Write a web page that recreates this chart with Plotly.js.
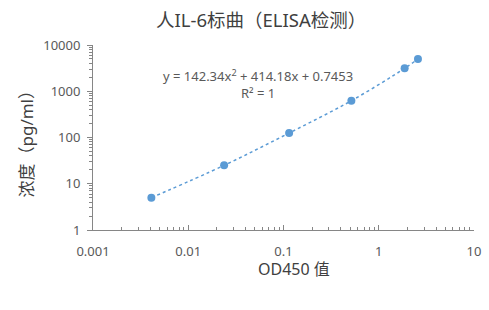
<!DOCTYPE html>
<html>
<head>
<meta charset="utf-8">
<script src="https://cdn.plot.ly/plotly-3.0.1.min.js"></script>
<style>html,body{margin:0;padding:0;background:#fff;}#chart{width:489px;height:310px;}</style>
</head>
<body>
<div id="chart"></div>
<script>
const od450 = [0.0041, 0.0238, 0.1146, 0.516, 1.87, 2.58];
const concentration = [5, 25, 125, 625, 3125, 5000];
const xTickVals = [0.001, 0.01, 0.1, 1, 10];
const xTickText = ['0.001', '0.01', '0.1', '1', '10'];
const yTickVals = [1, 10, 100, 1000, 10000];
const yTickText = ['1', '10', '100', '1000', '10000'];
const minorDigits = [2, 3, 4, 5, 6, 7, 8, 9];
const titleText = '人IL-6标曲（ELISA检测）';
const xTitle = 'OD450 值';
const yTitle = '浓度（pg/ml）';
const equationText = 'y = 142.34x<sup>2</sup> + 414.18x + 0.7453<br>R² = 1';

const font = '"Noto Sans", "Noto Sans CJK SC", sans-serif';
const blue = '#5B9BD5';

function minorVals(decades) {
  const out = [];
  decades.slice(0, -1).forEach(d => minorDigits.forEach(m => out.push(d * m)));
  return out;
}

const traces = [
  {
    x: od450, y: concentration, type: 'scatter', mode: 'lines',
    line: {color: blue, width: 1.5, dash: 'dot', shape: 'spline'},
    hoverinfo: 'skip', showlegend: false
  },
  {
    x: od450, y: concentration, type: 'scatter', mode: 'markers',
    marker: {color: blue, size: 8},
    showlegend: false
  }
];

const axisCommon = {
  type: 'log', showgrid: false, zeroline: false,
  showline: true, linecolor: '#868686', linewidth: 1,
  tickfont: {family: font, size: 13, color: '#595959'},
  tickcolor: '#868686', ticklen: 5, tickwidth: 1
};

const layout = {
  width: 489, height: 310,
  margin: {l: 92.5, r: 15.3, t: 44.5, b: 79.5},
  paper_bgcolor: '#fff', plot_bgcolor: '#fff',
  font: {family: font, color: '#595959'},
  title: {text: titleText, font: {family: font, size: 18.5, color: '#404040'},
          x: 0.534, xanchor: 'center', xref: 'container', y: 0.935, yanchor: 'middle'},
  xaxis: Object.assign({}, axisCommon, {
    range: [-3, 1], tickvals: xTickVals, ticktext: xTickText, ticks: 'inside',
    ticklabelstandoff: 9,
    minor: {ticks: 'inside', ticklen: 3, tickcolor: '#868686', tickvals: minorVals(xTickVals), showgrid: false}
  }),
  yaxis: Object.assign({}, axisCommon, {
    range: [0, 4], tickvals: yTickVals, ticktext: yTickText, ticks: 'outside',
    ticklabelstandoff: 4,
    minor: {ticks: 'outside', ticklen: 3, tickcolor: '#868686', tickvals: minorVals(yTickVals), showgrid: false}
  }),
  annotations: [
    {text: equationText, xref: 'paper', yref: 'paper', x: 0.434, y: 0.79,
     xanchor: 'center', yanchor: 'middle', showarrow: false, align: 'center',
     font: {family: font, size: 13, color: '#595959'}},
    {text: xTitle, xref: 'paper', yref: 'paper', x: (294 - 92.5) / 381.2, y: -(270 - 230.5) / 186,
     xanchor: 'center', yanchor: 'middle', showarrow: false,
     font: {family: font, size: 16, color: '#404040'}},
    {text: yTitle, xref: 'paper', yref: 'paper', x: -(92.5 - 26) / 381.2, y: (230.5 - 140) / 186,
     xanchor: 'center', yanchor: 'middle', showarrow: false, textangle: -90,
     font: {family: font, size: 17, color: '#404040'}}
  ]
};

Plotly.newPlot('chart', traces, layout, {displayModeBar: false, staticPlot: true});
</script>
</body>
</html>
